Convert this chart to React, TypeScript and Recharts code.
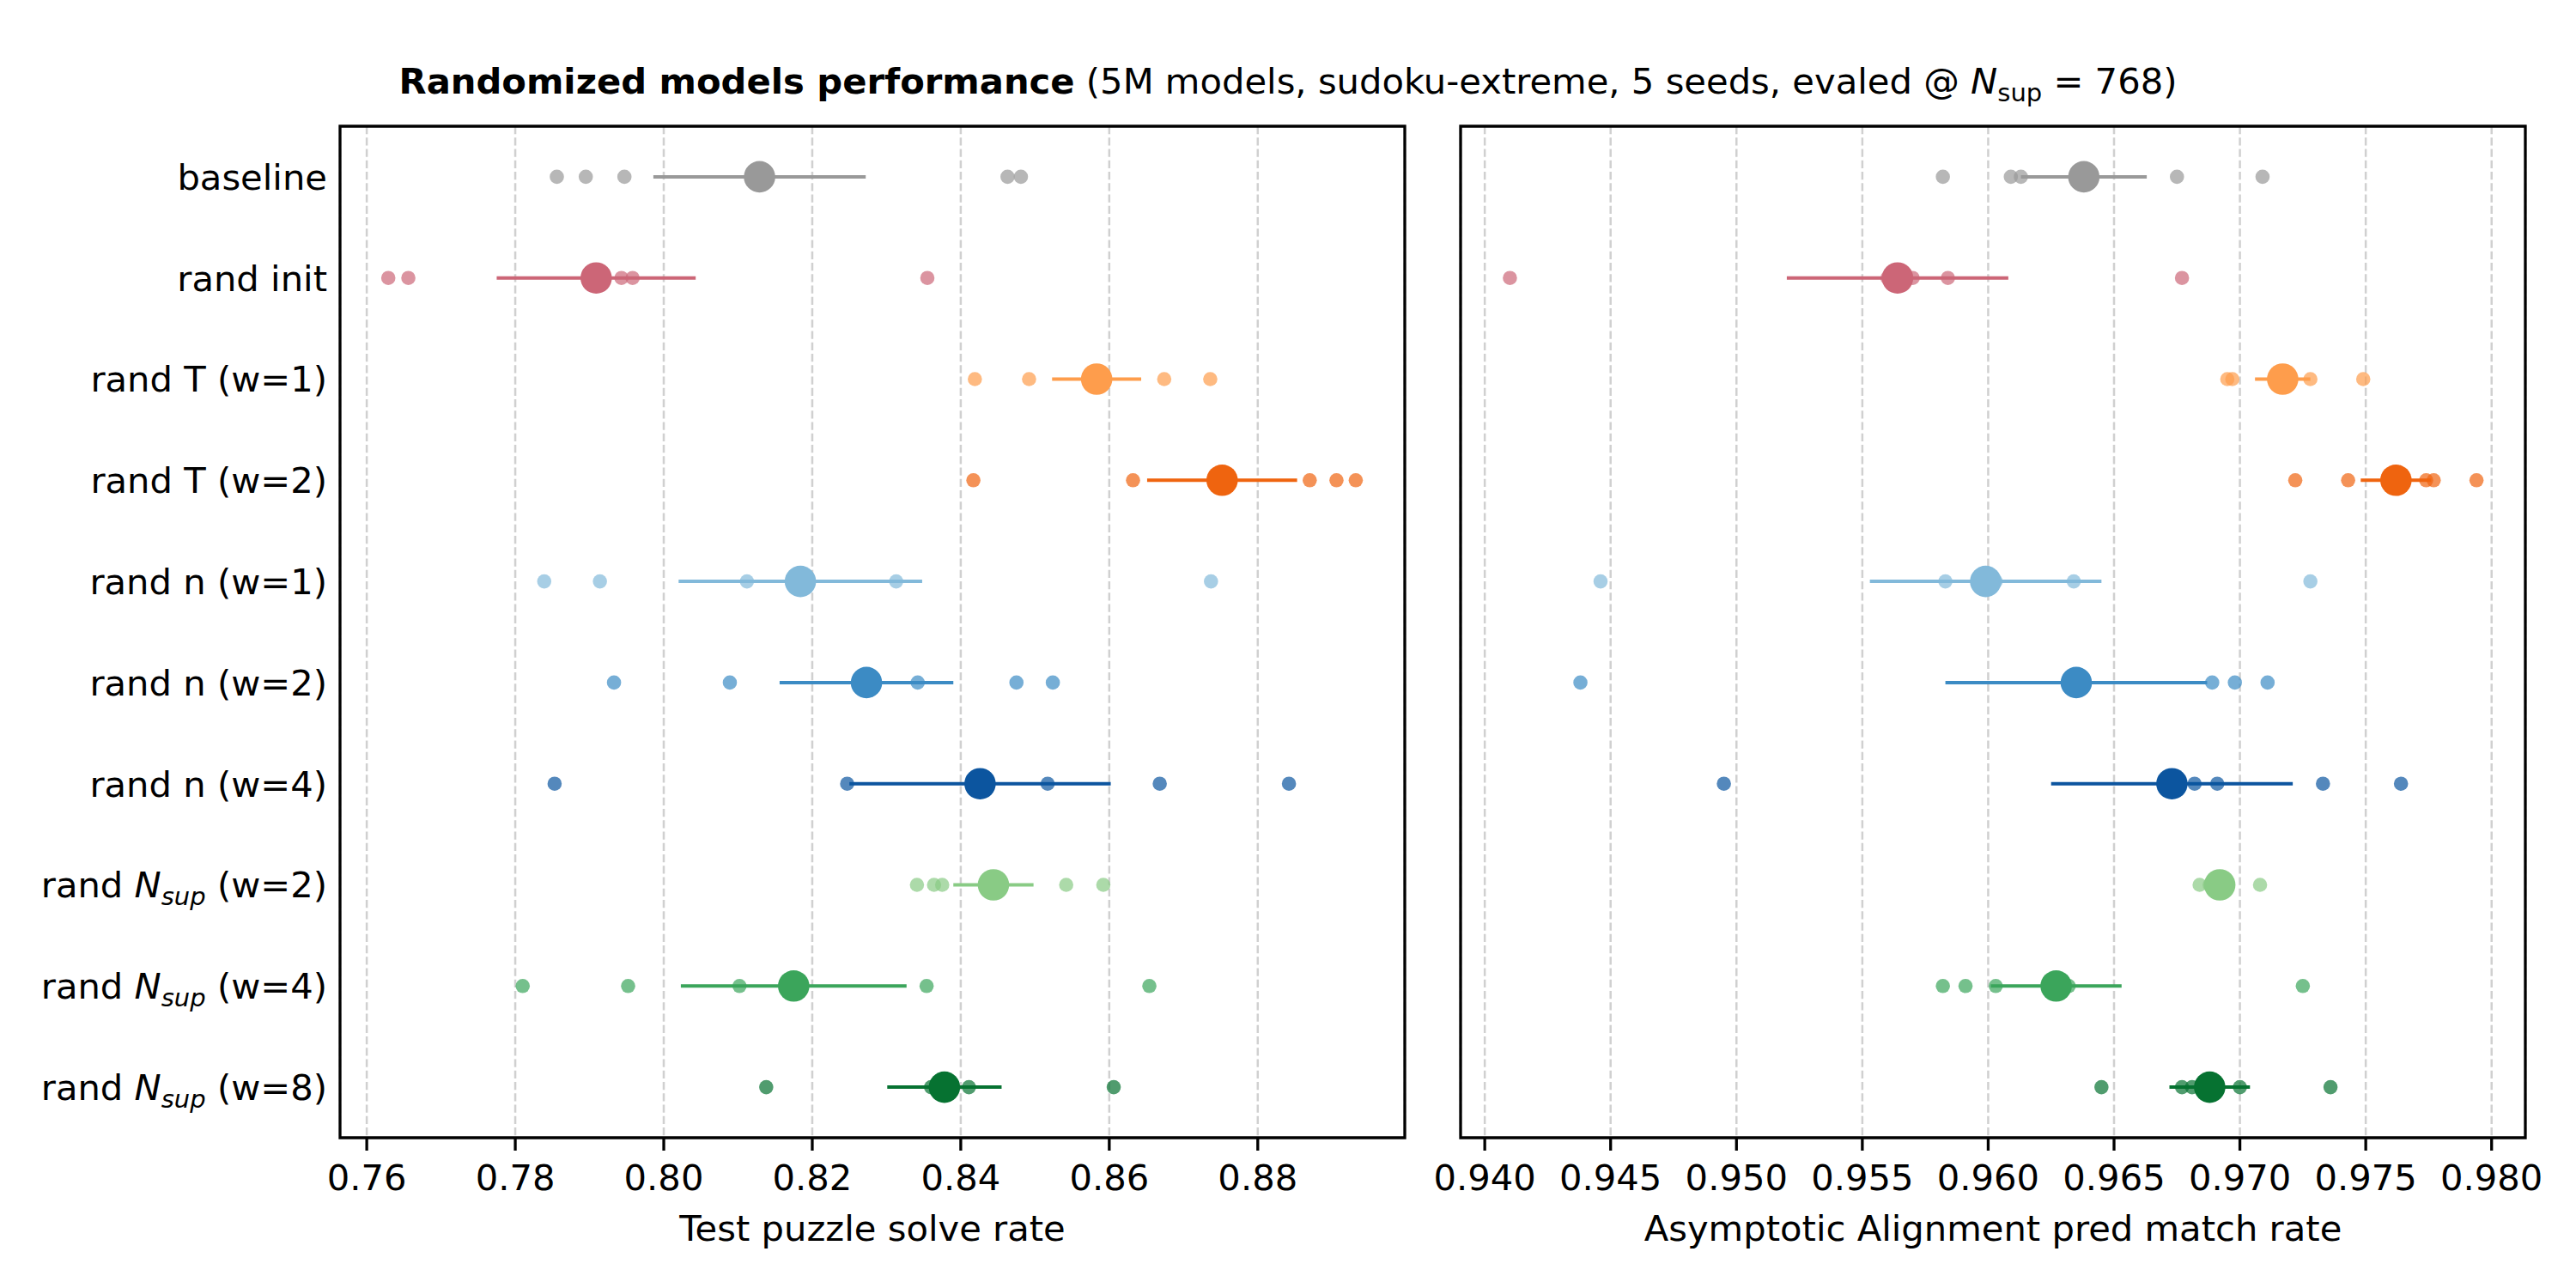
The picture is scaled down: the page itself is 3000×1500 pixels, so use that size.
import React from "react";
import {
  ScatterChart,
  Scatter,
  XAxis,
  YAxis,
  CartesianGrid,
  ErrorBar,
  ReferenceArea,
} from "recharts";

const FONT = "DejaVu Sans, sans-serif";
const FS = 41.7;

const CATEGORIES = [
  "baseline",
  "rand init",
  "rand T (w=1)",
  "rand T (w=2)",
  "rand n (w=1)",
  "rand n (w=2)",
  "rand n (w=4)",
  "rand N_sup (w=2)",
  "rand N_sup (w=4)",
  "rand N_sup (w=8)",
];

const COLORS = [
  "#999999",
  "#cc6677",
  "#fe9d4c",
  "#ef640f",
  "#82b9da",
  "#3c8bc4",
  "#0c559f",
  "#89cb85",
  "#3ba55b",
  "#067231",
];

// test puzzle solve rate, one row of 5 seeds per category
const SOLVE_SEEDS = [
  [0.7856, 0.7895, 0.7947, 0.8463, 0.8481],
  [0.7629, 0.7656, 0.7943, 0.7958, 0.8355],
  [0.8419, 0.8492, 0.8594, 0.8674, 0.8736],
  [0.8417, 0.8632, 0.887, 0.8906, 0.8932],
  [0.7839, 0.7914, 0.8112, 0.8313, 0.8737],
  [0.7933, 0.8089, 0.8342, 0.8475, 0.8524],
  [0.7853, 0.8247, 0.8517, 0.8668, 0.8842],
  [0.8341, 0.8364, 0.8375, 0.8542, 0.8592],
  [0.781, 0.7952, 0.8102, 0.8354, 0.8654],
  [0.8138, 0.836, 0.8375, 0.8411, 0.8606],
];
const SOLVE_MEAN = [0.8129, 0.7909, 0.8583, 0.8752, 0.8184, 0.8273, 0.8426, 0.8444, 0.8175, 0.8378];
const SOLVE_SEM = [0.0143, 0.0134, 0.006, 0.0101, 0.0164, 0.0117, 0.0176, 0.0054, 0.0152, 0.0077];
const SOLVE_TICKS = [0.76, 0.78, 0.8, 0.82, 0.84, 0.86, 0.88];
const SOLVE_DOMAIN = [0.7564, 0.8998];

// asymptotic alignment pred match rate
const MATCH_SEEDS = [
  [0.9582, 0.9609, 0.9613, 0.9675, 0.9709],
  [0.941, 0.956, 0.957, 0.9584, 0.9677],
  [0.9695, 0.9697, 0.9717, 0.9728, 0.9749],
  [0.9722, 0.9743, 0.9774, 0.9777, 0.9794],
  [0.9446, 0.9583, 0.9603, 0.9634, 0.9728],
  [0.9438, 0.9637, 0.9689, 0.9698, 0.9711],
  [0.9495, 0.9682, 0.9691, 0.9733, 0.9764],
  [0.9684, 0.9688, 0.969, 0.9691, 0.9708],
  [0.9582, 0.9591, 0.9603, 0.9632, 0.9725],
  [0.9645, 0.9677, 0.9681, 0.97, 0.9736],
];
const MATCH_MEAN = [0.9638, 0.9564, 0.9717, 0.9762, 0.9599, 0.9635, 0.9673, 0.9692, 0.9627, 0.9688];
const MATCH_SEM = [0.0025, 0.0044, 0.0011, 0.0014, 0.0046, 0.0052, 0.0048, 0.0004, 0.0026, 0.0016];
const MATCH_TICKS = [0.94, 0.945, 0.95, 0.955, 0.96, 0.965, 0.97, 0.975, 0.98];
const MATCH_DOMAIN = [0.93904, 0.98134];

const ROWS = CATEGORIES.map((_, i) => i);
const Y_DOMAIN = [-0.5, CATEGORIES.length - 0.5];

const noMark = () => <g />;
const seedDot = (p: any) => (
  <circle cx={p.cx} cy={p.cy} r={8.3} fill={p.payload.color} fillOpacity={0.7} />
);
const meanDot = (p: any) => <circle cx={p.cx} cy={p.cy} r={18.3} fill={p.payload.color} />;

const CategoryTick = (props: any) => {
  const { x, y, payload } = props;
  const label: string = CATEGORIES[payload.value] ?? "";
  const idx = label.indexOf("N_sup");
  return (
    <text x={x} y={y} dy="0.355em" textAnchor="end" fontSize={FS} fontFamily={FONT} fill="#000">
      {idx < 0 ? (
        label
      ) : (
        <>
          <tspan>{label.slice(0, idx)}</tspan>
          <tspan fontStyle="italic">N</tspan>
          <tspan fontStyle="italic" fontSize={29} dy={9}>
            sup
          </tspan>
          <tspan dy={-9}>{label.slice(idx + 5)}</tspan>
        </>
      )}
    </text>
  );
};

interface PanelProps {
  seeds: number[][];
  means: number[];
  sems: number[];
  ticks: number[];
  domain: number[];
  digits: number;
  xLabel: string;
  showY: boolean;
  width: number;
  margin: { top: number; right: number; bottom: number; left: number };
}

function Panel({ seeds, means, sems, ticks, domain, digits, xLabel, showY, width, margin }: PanelProps) {
  const seedData = seeds.flatMap((row, i) => row.map((v) => ({ x: v, y: i, color: COLORS[i] })));
  const meanData = means.map((m, i) => ({ x: m, y: i, err: sems[i], color: COLORS[i] }));

  return (
    <ScatterChart width={width} height={1500} margin={margin}>
      <CartesianGrid
        horizontal={false}
        stroke="#b0b0b0"
        strokeOpacity={0.6}
        strokeWidth={2.5}
        strokeDasharray="9.25 4"
      />
      <XAxis
        type="number"
        dataKey="x"
        domain={domain}
        ticks={ticks}
        allowDataOverflow
        interval={0}
        height={175}
        axisLine={false}
        tickLine={{ stroke: "#000", strokeWidth: 3.3 }}
        tickSize={15}
        tickMargin={16}
        tickFormatter={(v: number) => v.toFixed(digits)}
        tick={{ fontSize: FS, fill: "#000", fontFamily: FONT }}
        label={{
          value: xLabel,
          position: "insideBottom",
          offset: 55,
          fontSize: FS,
          fill: "#000",
          fontFamily: FONT,
        }}
      />
      <YAxis
        type="number"
        dataKey="y"
        domain={Y_DOMAIN}
        ticks={ROWS}
        reversed
        allowDataOverflow
        interval={0}
        hide={!showY}
        width={396}
        axisLine={false}
        tickLine={false}
        tickSize={0}
        tickMargin={15}
        tick={<CategoryTick />}
      />
      {meanData.map((d, i) => (
        <Scatter key={`err-${i}`} data={[d]} shape={noMark} isAnimationActive={false}>
          <ErrorBar dataKey="err" direction="x" width={0} stroke={COLORS[i]} strokeWidth={4} />
        </Scatter>
      ))}
      <Scatter data={seedData} shape={seedDot} isAnimationActive={false} />
      <Scatter data={meanData} shape={meanDot} isAnimationActive={false} />
      <ReferenceArea
        x1={domain[0]}
        x2={domain[1]}
        y1={Y_DOMAIN[0]}
        y2={Y_DOMAIN[1]}
        ifOverflow="visible"
        fill="none"
        stroke="#000"
        strokeWidth={3.3}
      />
    </ScatterChart>
  );
}

export default function App() {
  return (
    <div
      style={{
        position: "absolute",
        left: 0,
        top: 0,
        width: 3000,
        height: 1500,
        background: "#fff",
        fontFamily: FONT,
      }}
    >
      <div style={{ position: "absolute", left: 0, top: 0 }}>
        <Panel
          seeds={SOLVE_SEEDS}
          means={SOLVE_MEAN}
          sems={SOLVE_SEM}
          ticks={SOLVE_TICKS}
          domain={SOLVE_DOMAIN}
          digits={2}
          xLabel="Test puzzle solve rate"
          showY
          width={1700}
          margin={{ top: 147, right: 64, bottom: 0, left: 0 }}
        />
      </div>
      <div style={{ position: "absolute", left: 1650, top: 0 }}>
        <Panel
          seeds={MATCH_SEEDS}
          means={MATCH_MEAN}
          sems={MATCH_SEM}
          ticks={MATCH_TICKS}
          domain={MATCH_DOMAIN}
          digits={3}
          xLabel="Asymptotic Alignment pred match rate"
          showY={false}
          width={1350}
          margin={{ top: 147, right: 59, bottom: 0, left: 51 }}
        />
      </div>
      <svg width={3000} height={140} style={{ position: "absolute", left: 0, top: 0 }}>
        <text x={1500} y={109} textAnchor="middle" fontSize={FS} fontFamily={FONT} fill="#000">
          <tspan fontWeight="bold">Randomized models performance</tspan>
          <tspan> (5M models, sudoku-extreme, 5 seeds, evaled @ </tspan>
          <tspan fontStyle="italic">N</tspan>
          <tspan fontSize={29} dy={9}>
            sup
          </tspan>
          <tspan dy={-9}> = 768)</tspan>
        </text>
      </svg>
    </div>
  );
}
